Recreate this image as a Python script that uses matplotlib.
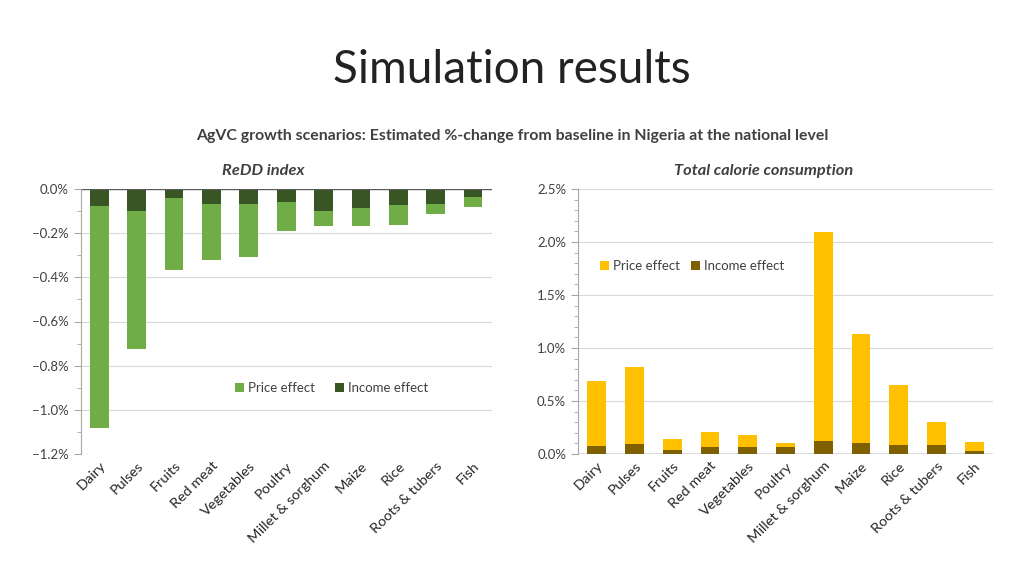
import numpy as np
import matplotlib.pyplot as plt
from matplotlib.ticker import PercentFormatter, MultipleLocator

plt.rcParams['font.family'] = ['Lato', 'DejaVu Sans']

# ---------------------------
# data (percent change from baseline)
# ---------------------------
categories = ['Dairy', 'Pulses', 'Fruits', 'Red meat', 'Vegetables', 'Poultry',
              'Millet & sorghum', 'Maize', 'Rice', 'Roots & tubers', 'Fish']

redd_income = [-0.076, -0.098, -0.039, -0.066, -0.070, -0.057, -0.098, -0.086, -0.071, -0.066, -0.035]
redd_price = [-1.004, -0.627, -0.327, -0.254, -0.238, -0.132, -0.071, -0.083, -0.092, -0.047, -0.047]

cal_income = [0.076, 0.098, 0.041, 0.069, 0.069, 0.063, 0.126, 0.101, 0.085, 0.082, 0.031]
cal_price = [0.617, 0.727, 0.104, 0.136, 0.110, 0.041, 1.965, 1.029, 0.567, 0.220, 0.082]

GREEN_P, GREEN_I = '#70AD47', '#375623'
GOLD_P, GOLD_I = '#FFC000', '#7F6000'
GRID = '#D9D9D9'
TXT = '#404040'

fig = plt.figure(figsize=(10.24, 5.76), dpi=100)
fig.text(0.5, 0.878, 'Simulation results', ha='center', va='center', fontsize=33, color='#222222')
fig.text(0.5, 0.764, 'AgVC growth scenarios: Estimated %-change from baseline in Nigeria at the national level',
         ha='center', va='center', fontsize=11.4, fontweight='bold', color=TXT)

x = np.arange(len(categories))


def style_axes(ax):
    ax.set_xlim(-0.5, len(categories) - 0.5)
    ax.yaxis.set_major_formatter(PercentFormatter(decimals=1))
    ax.grid(axis='y', color=GRID, lw=0.8)
    ax.set_axisbelow(True)
    for s in ['top', 'right', 'bottom']:
        ax.spines[s].set_visible(False)
    ax.spines['left'].set_color('#A6A6A6')
    ax.tick_params(axis='y', which='both', color='#A6A6A6', labelsize=9.5, labelcolor=TXT)
    ax.tick_params(axis='y', which='major', length=5)
    ax.tick_params(axis='y', which='minor', length=3)
    ax.tick_params(axis='x', length=0, labelsize=10.4, labelcolor='#262626', pad=4)
    ax.set_xticks(x)
    ax.set_xticklabels(categories, rotation=45, ha='right', rotation_mode='anchor')


# ---------------------------
# left: ReDD index
# ---------------------------
ax1 = fig.add_axes([80.7 / 1024, 1 - 454 / 576, 411 / 1024, 265 / 576])
ax1.bar(x, redd_income, width=0.5, color=GREEN_I, label='Income effect')
ax1.bar(x, redd_price, width=0.5, bottom=redd_income, color=GREEN_P, label='Price effect')
ax1.set_ylim(-1.2, 0)
ax1.yaxis.set_major_locator(MultipleLocator(0.2))
ax1.yaxis.set_minor_locator(MultipleLocator(0.1))
style_axes(ax1)
ax1.axhline(0, color='#595959', lw=1)
h, l = ax1.get_legend_handles_labels()
ax1.legend(h[::-1], l[::-1], loc='center', bbox_to_anchor=(0.61, 0.25), ncol=2, frameon=False,
           fontsize=9.5, handlelength=0.7, handleheight=0.7, handletextpad=0.3, columnspacing=1.5,
           labelcolor=TXT)
ax1.set_title('ReDD index', fontsize=11.8, fontweight='bold', style='italic', color=TXT,
              x=0.444, pad=10)

# ---------------------------
# right: total calorie consumption
# ---------------------------
ax2 = fig.add_axes([578 / 1024, 1 - 454 / 576, 415 / 1024, 265 / 576])
ax2.bar(x, cal_income, width=0.5, color=GOLD_I, label='Income effect')
ax2.bar(x, cal_price, width=0.5, bottom=cal_income, color=GOLD_P, label='Price effect')
ax2.set_ylim(0, 2.5)
ax2.yaxis.set_major_locator(MultipleLocator(0.5))
ax2.yaxis.set_minor_locator(MultipleLocator(0.1))
style_axes(ax2)
ax2.axhline(0, color='#595959', lw=1)
h, l = ax2.get_legend_handles_labels()
ax2.legend(h[::-1], l[::-1], loc='center', bbox_to_anchor=(0.275, 0.71), ncol=2, frameon=False,
           fontsize=9.5, handlelength=0.7, handleheight=0.7, handletextpad=0.3, columnspacing=0.8,
           labelcolor=TXT)
ax2.set_title('Total calorie consumption', fontsize=11.8, fontweight='bold', style='italic', color=TXT,
              x=0.447, pad=10)

fig.savefig('out.png', dpi=100)
